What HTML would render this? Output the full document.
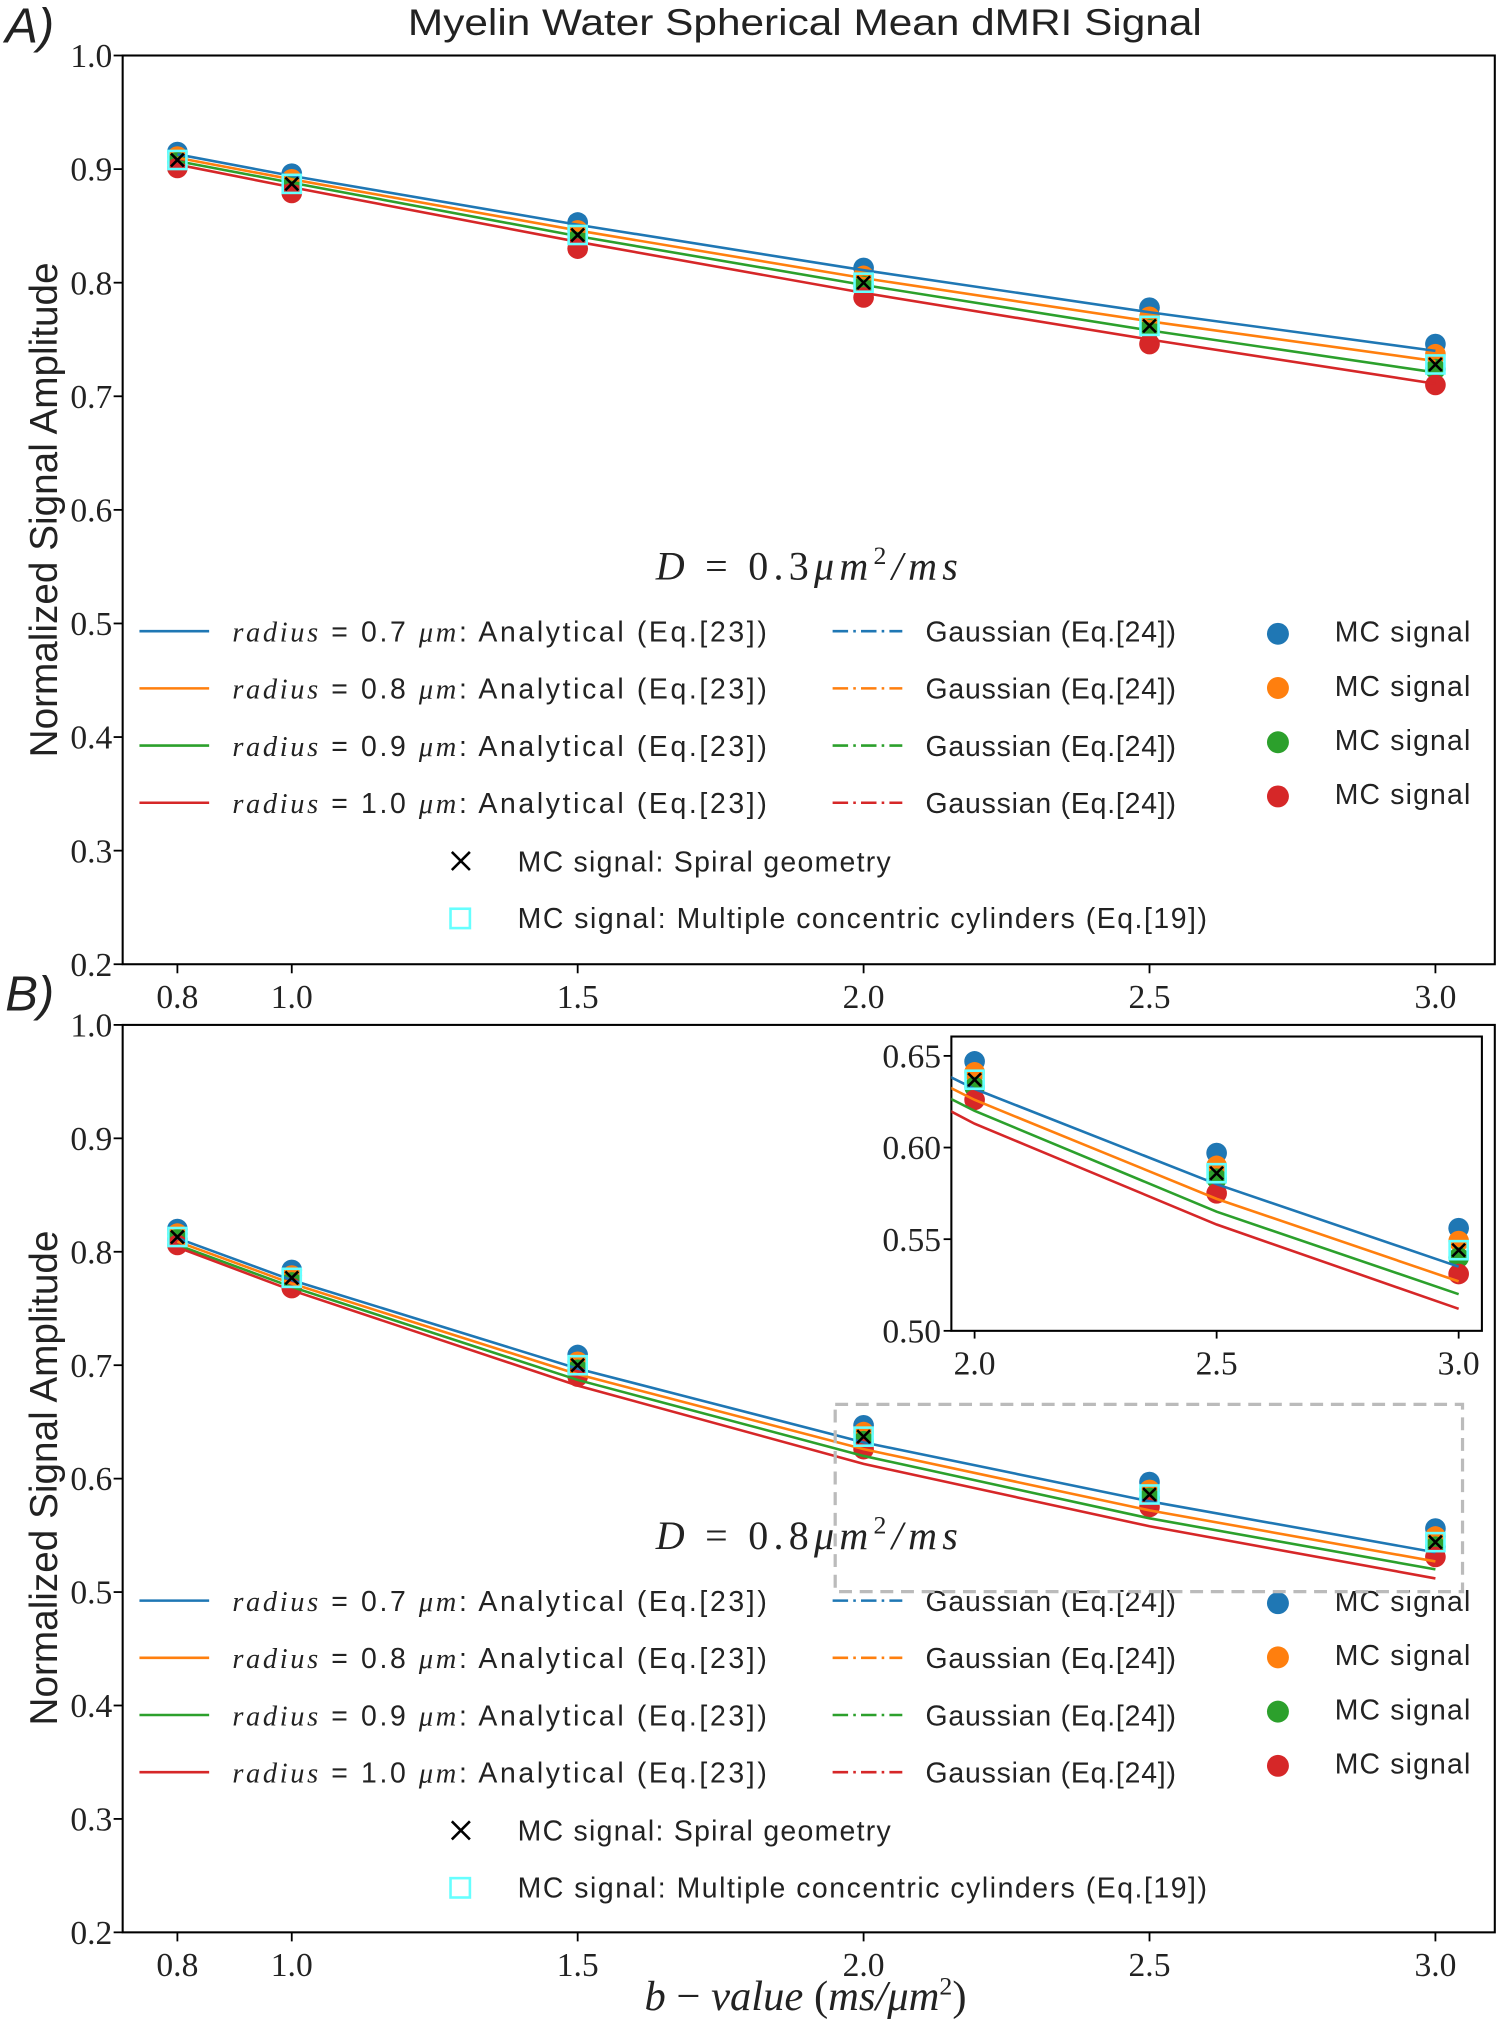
<!DOCTYPE html>
<html><head><meta charset="utf-8"><style>
html,body{margin:0;padding:0;background:#fff;width:1500px;height:2024px;overflow:hidden}
svg{display:block}
.tick{font-family:"Liberation Serif",serif;font-size:26px;fill:#222}
.sans{font-family:"Liberation Sans",sans-serif;fill:#222}
.it{font-family:"Liberation Serif",serif;font-style:italic}
</style></head><body>
<svg id="fig" width="1500" height="2024" viewBox="0 0 1162 1568" xmlns="http://www.w3.org/2000/svg">
<text x="316" y="27" textLength="615" lengthAdjust="spacingAndGlyphs" class="sans" font-size="29">Myelin Water Spherical Mean dMRI Signal</text>
<text x="4" y="33" class="sans" font-size="38" font-style="italic">A)</text>
<text x="4" y="783" class="sans" font-size="38" font-style="italic">B)</text>
<text x="44" y="395" transform="rotate(-90 44 395)" text-anchor="middle" class="sans" font-size="30">Normalized Signal Amplitude</text>
<text x="44" y="1145" transform="rotate(-90 44 1145)" text-anchor="middle" class="sans" font-size="30">Normalized Signal Amplitude</text>
<text x="624" y="1557" text-anchor="middle" font-family="Liberation Serif,serif" font-size="33" fill="#222"><tspan font-style="italic">b</tspan> − <tspan font-style="italic">value</tspan> (<tspan font-style="italic">ms/μm</tspan><tspan dy="-12" font-size="20">2</tspan><tspan dy="12">)</tspan></text>
<g id="pa"></g><g id="pb"></g><g id="inset"></g>
</svg>
<script>
const bvals=[0.8,1.0,1.5,2.0,2.5,3.0];
const xTicks=[0.8,1.0,1.5,2.0,2.5,3.0];
const yTicks=[0.2,0.3,0.4,0.5,0.6,0.7,0.8,0.9,1.0];
const colors=['#1f77b4','#ff7f0e','#2ca02c','#d62728'];
const radii=['0.7','0.8','0.9','1.0'];
// Panel A
const mcA_r07=[0.915,0.896,0.853,0.813,0.778,0.746];
const mcA_r08=[0.911,0.891,0.846,0.806,0.770,0.737];
const mcA_r09=[0.906,0.885,0.838,0.797,0.759,0.724];
const mcA_r10=[0.901,0.879,0.830,0.787,0.746,0.710];
const anA_r07=[0.913,0.894,0.851,0.811,0.774,0.740];
const anA_r08=[0.910,0.891,0.846,0.804,0.766,0.731];
const anA_r09=[0.907,0.888,0.841,0.798,0.758,0.721];
const anA_r10=[0.904,0.884,0.836,0.791,0.750,0.711];
const spiralA=[0.908,0.887,0.842,0.800,0.762,0.728];
const cylA=[0.908,0.887,0.842,0.800,0.762,0.728];
// Panel B
const mcB_r07=[0.820,0.784,0.709,0.647,0.597,0.556];
const mcB_r08=[0.816,0.779,0.703,0.641,0.590,0.549];
const mcB_r09=[0.811,0.773,0.696,0.633,0.583,0.540];
const mcB_r10=[0.806,0.768,0.690,0.626,0.575,0.531];
const anB_r07=[0.812,0.775,0.697,0.632,0.580,0.535];
const anB_r08=[0.809,0.772,0.692,0.626,0.572,0.527];
const anB_r09=[0.806,0.769,0.687,0.620,0.565,0.520];
const anB_r10=[0.804,0.766,0.682,0.613,0.558,0.512];
const spiralB=[0.813,0.777,0.700,0.637,0.586,0.544];
const cylB=[0.813,0.777,0.700,0.637,0.586,0.544];
const insetYTicks=[0.50,0.55,0.60,0.65];
const insetXTicks=[2.0,2.5,3.0];

const NS='http://www.w3.org/2000/svg';
function mk(parent,tag,attrs,text){const e=document.createElementNS(NS,tag);for(const k in attrs)e.setAttribute(k,attrs[k]);if(text!=null)e.textContent=text;parent.appendChild(e);return e;}

function panel(g,top,bottom,left,right,mc,an,spiral,cyl,dlabel,key){
  const sx=v=>669+(v-2.0)*443;
  const sy=v=>bottom-(v-0.2)/0.8*(bottom-top);
  let r=mk(g,'rect',{x:left,y:top,width:right-left,height:bottom-top,fill:'none',stroke:'#000','stroke-width':1.6});
  
  
  yTicks.forEach(t=>{const y=sy(t);
    let l=mk(g,'line',{x1:left-7,x2:left,y1:y,y2:y,stroke:'#000','stroke-width':1.4});
    
    
    let tx=mk(g,'text',{x:left-8,y:y+9,'text-anchor':'end',class:'tick'},t.toFixed(1));
    
    });
  xTicks.forEach(t=>{const x=sx(t);
    let l=mk(g,'line',{x1:x,x2:x,y1:bottom,y2:bottom+7,stroke:'#000','stroke-width':1.4});
    
    
    let tx=mk(g,'text',{x:x,y:bottom+34,'text-anchor':'middle',class:'tick'},t.toFixed(1));
    
    });
  mc.forEach((s,i)=>s.forEach((v,j)=>{
    let c=mk(g,'circle',{cx:sx(bvals[j]),cy:sy(v),r:8,fill:colors[i]});
    
    }));
  an.forEach((s,i)=>{
    let p=mk(g,'polyline',{points:s.map((v,j)=>sx(bvals[j])+','+sy(v)).join(' '),fill:'none',stroke:colors[i],'stroke-width':2});
    
    });
  cyl.forEach((v,j)=>{
    let q=mk(g,'rect',{x:sx(bvals[j])-7,y:sy(v)-7,width:14,height:14,fill:'none',stroke:'#6ff','stroke-width':2});
    
    });
  spiral.forEach((v,j)=>{const x=sx(bvals[j]),y=sy(v);
    let p=mk(g,'path',{d:`M${x-5},${y-5}L${x+5},${y+5}M${x-5},${y+5}L${x+5},${y-5}`,stroke:'#000','stroke-width':2});
    
    });
  let d=mk(g,'text',{x:508,y:top+406,textLength:234,lengthAdjust:'spacing','font-family':'Liberation Serif,serif','font-size':31,fill:'#222'});
  d.innerHTML=`<tspan font-style="italic">D</tspan> = ${dlabel}<tspan font-style="italic">μm</tspan><tspan dy="-12" font-size="20">2</tspan><tspan dy="12" font-style="italic">/ms</tspan>`;
  
  
  radii.forEach((rd,i)=>{const y=top+446+i*44.3;
    let l1=mk(g,'line',{x1:108,x2:162,y1:y,y2:y,stroke:colors[i],'stroke-width':2});
    
    
    let t1=mk(g,'text',{x:180,y:y+8,class:'sans','font-size':22,textLength:414,lengthAdjust:'spacing'});
    t1.innerHTML=`<tspan class="it">radius</tspan> = ${rd} <tspan class="it">μm</tspan>: Analytical (Eq.[23])`;
    
    
    let l2=mk(g,'line',{x1:645,x2:699,y1:y,y2:y,stroke:colors[i],'stroke-width':2,'stroke-dasharray':'12,4,2,4'});
    
    
    let t2=mk(g,'text',{x:717,y:y+8,class:'sans','font-size':22,textLength:194,lengthAdjust:'spacing'},'Gaussian (Eq.[24])');
    
    
    let c=mk(g,'circle',{cx:990,cy:y+2-i*2.3,r:8.5,fill:colors[i]});
    
    
    let t3=mk(g,'text',{x:1034,y:y+8-i*2.3,class:'sans','font-size':22,textLength:105,lengthAdjust:'spacing'},'MC signal');
    
    });
  const ys=top+624;
  let x=mk(g,'path',{d:`M350,${ys-7}L364,${ys+7}M350,${ys+7}L364,${ys-7}`,stroke:'#000','stroke-width':2});
  
  
  let xt=mk(g,'text',{x:401,y:ys+8,class:'sans','font-size':22,textLength:289,lengthAdjust:'spacing'},'MC signal:  Spiral geometry');
  
  
  const yc=top+668;
  let q=mk(g,'rect',{x:349,y:yc-7,width:15,height:15,fill:'none',stroke:'#6ff','stroke-width':2});
  
  
  let qt=mk(g,'text',{x:401,y:yc+8,class:'sans','font-size':22,textLength:534,lengthAdjust:'spacing'},'MC signal:  Multiple concentric cylinders (Eq.[19])');
  
  
}
panel(document.getElementById('pa'),43,747,95,1158,[mcA_r07,mcA_r08,mcA_r09,mcA_r10],[anA_r07,anA_r08,anA_r09,anA_r10],spiralA,cylA,'0.3','panel-a');
panel(document.getElementById('pb'),794,1497,95,1158,[mcB_r07,mcB_r08,mcB_r09,mcB_r10],[anB_r07,anB_r08,anB_r09,anB_r10],spiralB,cylB,'0.8','panel-b');

const gb=document.getElementById('pb');
let zr=mk(gb,'rect',{x:647,y:1088,width:486,height:145,fill:'none',stroke:'#bbb','stroke-width':2.5,'stroke-dasharray':'10,6'});



(function(){
  const g=document.getElementById('inset');
  const L=737,R=1148,T=803,B=1031;
  const sx=v=>755+(v-2.0)*375;
  const sy=v=>B-(v-0.5)/0.05*71;
  let bg=mk(g,'rect',{x:L,y:T,width:R-L,height:B-T,fill:'#fff',stroke:'#000','stroke-width':1.6});
  
  
  insetYTicks.forEach(t=>{const y=sy(t);
    let l=mk(g,'line',{x1:L-6,x2:L,y1:y,y2:y,stroke:'#000','stroke-width':1.4});
    
    
    let tx=mk(g,'text',{x:L-8,y:y+9,'text-anchor':'end',class:'tick'},t.toFixed(2));
    
    });
  insetXTicks.forEach(t=>{const x=sx(t);
    let l=mk(g,'line',{x1:x,x2:x,y1:B,y2:B+6,stroke:'#000','stroke-width':1.4});
    
    
    let tx=mk(g,'text',{x:x,y:B+34,'text-anchor':'middle',class:'tick'},t.toFixed(1));
    
    });
  const idx=[3,4,5];
  const clip=mk(g,'clipPath',{id:'ic'});mk(clip,'rect',{x:L,y:T,width:R-L,height:B-T});
  const cg=mk(g,'g',{'clip-path':'url(#ic)'});
  [mcB_r07,mcB_r08,mcB_r09,mcB_r10].forEach((s,i)=>idx.forEach(j=>{
    let c=mk(cg,'circle',{cx:sx(bvals[j]),cy:sy(s[j]),r:8,fill:colors[i]});
    
    }));
  [anB_r07,anB_r08,anB_r09,anB_r10].forEach((s,i)=>{
    const pts=[2,3,4,5].map(j=>sx(bvals[j])+','+sy(s[j])).join(' ');
    let p=mk(cg,'polyline',{points:pts,fill:'none',stroke:colors[i],'stroke-width':2});
    
    });
  idx.forEach(j=>{const x=sx(bvals[j]),y=sy(cylB[j]);
    let q=mk(cg,'rect',{x:x-7,y:y-7,width:14,height:14,fill:'none',stroke:'#6ff','stroke-width':2});
    
    
    const ys=sy(spiralB[j]);
    let p=mk(cg,'path',{d:`M${x-5},${ys-5}L${x+5},${ys+5}M${x-5},${ys+5}L${x+5},${ys-5}`,stroke:'#000','stroke-width':2});
    
    });
})();
</script>
</body></html>
